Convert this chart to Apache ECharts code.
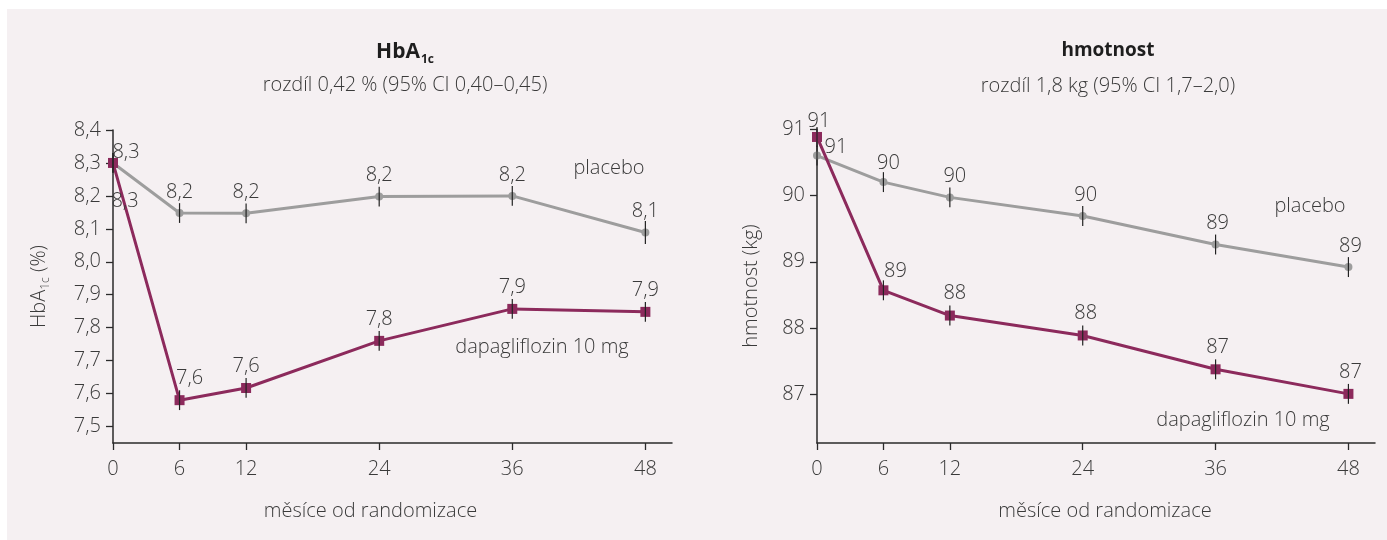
<!DOCTYPE html>
<html><head><meta charset="utf-8">
<script src="https://cdn.jsdelivr.net/npm/echarts@6/dist/echarts.min.js"></script>
<style>html,body{margin:0;padding:0;background:#fff}#c{width:1387px;height:540px}</style>
</head><body><div id="c"></div>
<script>
// ---- data ----
const months = [0, 6, 12, 24, 36, 48];
const xTicks = [0, 6, 12, 24, 36, 48];

const hbaPlacebo = [8.30, 8.148, 8.147, 8.198, 8.200, 8.089];
const hbaDapa = [8.30, 7.580, 7.617, 7.760, 7.857, 7.848];
const hbaPlaceboErr = [0.03, 0.03, 0.03, 0.03, 0.03, 0.035];
const hbaDapaErr = [0.03, 0.03, 0.03, 0.03, 0.03, 0.03];
const hbaPlaceboLabels = ['8,3', '8,2', '8,2', '8,2', '8,2', '8,1'];
const hbaDapaLabels = ['8,3', '7,6', '7,6', '7,8', '7,9', '7,9'];
const hbaTicks = [7.5, 7.6, 7.7, 7.8, 7.9, 8.0, 8.1, 8.2, 8.3, 8.4];

const wPlacebo = [90.60, 90.20, 89.97, 89.69, 89.26, 88.92];
const wDapa = [90.88, 88.57, 88.19, 87.89, 87.38, 87.01];
const wPlaceboErr = [0.15, 0.15, 0.15, 0.15, 0.15, 0.15];
const wDapaErr = [0.15, 0.15, 0.15, 0.15, 0.15, 0.15];
const wPlaceboLabels = ['91', '90', '90', '90', '89', '89'];
const wDapaLabels = ['91', '89', '88', '88', '87', '87'];
const wTicks = [87, 88, 89, 90, 91];

// ---- styles ----
const FONT = 'Open Sans';
const FW = 300;
const FS = 20;
const TXT = '#3a3a3a';
const AX = '#2a2a2a';
const GRAY = '#9d9d9d';
const PURP = '#8c2a5c';

function fmtComma(v){ return (Math.round(v*10)/10).toFixed(1).replace('.', ','); }

function xAxisDef(gi, padding){
  return {
    type:'value', gridIndex:gi, min:0, max:50.4,
    axisLine:{show:true, lineStyle:{color:AX, width:1.5}},
    axisTick:{show:true, length:7, lineStyle:{color:AX, width:1.3}, customValues:xTicks},
    axisLabel:{color:TXT, fontFamily:FONT, fontWeight:FW, fontSize:FS, margin:16, customValues:xTicks},
    splitLine:{show:false},
    name:'měsíce od randomizace', nameLocation:'middle', nameGap:58,
    nameTextStyle:{color:TXT, fontFamily:FONT, fontWeight:FW, fontSize:FS, padding:padding}
  };
}

function lineSeries(gi, xs, ys, labels, color, symbol, size, offsets){
  return {
    type:'line', xAxisIndex:gi, yAxisIndex:gi, z:3,
    data: xs.map((x,i)=>{
      const o = offsets[i] || {};
      return {value:[x, ys[i]], label:{show:true, formatter:labels[i], position:o.pos||'top', distance:o.dist==null?7:o.dist, offset:o.off||[0,0]}};
    }),
    symbol:symbol, symbolSize:size, showSymbol:true,
    lineStyle:{color:color, width:3},
    itemStyle:{color:color},
    label:{color:TXT, fontFamily:FONT, fontWeight:FW, fontSize:FS},
    emphasis:{disabled:true},
    animation:false
  };
}

function errSeries(gi, xs, ys, errs){
  return {
    type:'custom', xAxisIndex:gi, yAxisIndex:gi, z:4,
    data: xs.map((x,i)=>[x, ys[i], errs[i]]),
    renderItem:function(params, api){
      const x = api.value(0), y = api.value(1), e = api.value(2);
      const p1 = api.coord([x, y - e]);
      const p2 = api.coord([x, y + e]);
      return {type:'line', shape:{x1:p1[0], y1:p1[1], x2:p2[0], y2:p2[1]}, style:{stroke:'#222', lineWidth:1.2}};
    },
    animation:false, silent:true
  };
}

const annFont = FW + ' ' + FS + 'px "Open Sans"';
const chart = echarts.init(document.getElementById('c'));
chart.setOption({
  backgroundColor:'#ffffff',
  animation:false,
  textStyle:{fontFamily:FONT},
  graphic:[
    {type:'rect', z:-10, silent:true, shape:{x:7, y:9, width:1380, height:531}, style:{fill:'#f5f0f2'}},
    {type:'text', silent:true, style:{text:'placebo', x:609, y:168, textAlign:'center', textVerticalAlign:'middle', font:annFont, fill:TXT}},
    {type:'text', silent:true, style:{text:'dapagliflozin 10 mg', x:542, y:347, textAlign:'center', textVerticalAlign:'middle', font:annFont, fill:TXT}},
    {type:'text', silent:true, style:{text:'placebo', x:1310, y:206, textAlign:'center', textVerticalAlign:'middle', font:annFont, fill:TXT}},
    {type:'text', silent:true, style:{text:'dapagliflozin 10 mg', x:1243, y:420, textAlign:'center', textVerticalAlign:'middle', font:annFont, fill:TXT}}
  ],
  title:[
    {left:400, top:34, textAlign:'center', itemGap:12,
     text:'{b|HbA}{s|1c}',
     textStyle:{rich:{b:{fontFamily:FONT, fontWeight:'bold', fontSize:21, color:'#1e1e1e'}, s:{fontFamily:FONT, fontWeight:'bold', fontSize:12, color:'#1e1e1e', padding:[15,0,0,1]}}},
     subtext:'rozdíl 0,42 % (95% CI 0,40–0,45)',
     subtextStyle:{fontFamily:FONT, fontWeight:FW, fontSize:FS, color:TXT}},
    {left:1103, top:36, textAlign:'center', itemGap:16,
     text:'hmotnost',
     textStyle:{fontFamily:FONT, fontWeight:'bold', fontSize:19, color:'#1e1e1e'},
     subtext:'rozdíl 1,8 kg (95% CI 1,7–2,0)',
     subtextStyle:{fontFamily:FONT, fontWeight:FW, fontSize:FS, color:TXT}}
  ],
  grid:[
    {left:113, top:130, right:715, bottom:97},
    {left:817, top:129, right:12, bottom:97}
  ],
  xAxis:[ xAxisDef(0, [0,44,0,0]), xAxisDef(1, [0,0,0,18]) ],
  yAxis:[
    {type:'value', gridIndex:0, min:7.45, max:8.4,
     axisLine:{show:true, lineStyle:{color:AX, width:1.5}},
     axisTick:{show:true, length:7, lineStyle:{color:AX, width:1.3}, customValues:hbaTicks},
     axisLabel:{color:TXT, fontFamily:FONT, fontWeight:FW, fontSize:FS, margin:12, customValues:hbaTicks, formatter:fmtComma},
     splitLine:{show:false},
     name:'{n|HbA}{s|1c}{n| (%)}', nameLocation:'middle', nameGap:61,
     nameTextStyle:{rich:{n:{fontFamily:FONT, fontWeight:FW, fontSize:FS, color:TXT}, s:{fontFamily:FONT, fontWeight:FW, fontSize:12, color:TXT, padding:[13,0,0,0]}}}},
    {type:'value', gridIndex:1, min:86.27, max:91,
     axisLine:{show:true, lineStyle:{color:AX, width:1.5}},
     axisTick:{show:true, length:7, lineStyle:{color:AX, width:1.3}, customValues:wTicks},
     axisLabel:{color:TXT, fontFamily:FONT, fontWeight:FW, fontSize:FS, margin:12, customValues:wTicks},
     splitLine:{show:false},
     name:'hmotnost (kg)', nameLocation:'middle', nameGap:56,
     nameTextStyle:{fontFamily:FONT, fontWeight:FW, fontSize:FS, color:TXT}}
  ],
  series:[
    lineSeries(0, months, hbaPlacebo, hbaPlaceboLabels, GRAY, 'circle', 8,
      [{off:[13,10]}]),
    lineSeries(0, months, hbaDapa, hbaDapaLabels, PURP, 'rect', 10,
      [{pos:'bottom', dist:18, off:[12,5]}, {off:[10,0]}]),
    errSeries(0, months, hbaPlacebo, hbaPlaceboErr),
    errSeries(0, months, hbaDapa, hbaDapaErr),
    lineSeries(1, months, wPlacebo, wPlaceboLabels, GRAY, 'circle', 8,
      [{off:[19,13]}, {off:[5,2]}, {off:[5,0]}, {off:[3,0]}, {off:[2,0]}, {off:[2,0]}]),
    lineSeries(1, months, wDapa, wDapaLabels, PURP, 'rect', 10,
      [{off:[2,6]}, {off:[12,3]}, {off:[5,0]}, {off:[3,0]}, {off:[2,0]}, {off:[2,0]}]),
    errSeries(1, months, wPlacebo, wPlaceboErr),
    errSeries(1, months, wDapa, wDapaErr)
  ]
});
</script></body></html>
